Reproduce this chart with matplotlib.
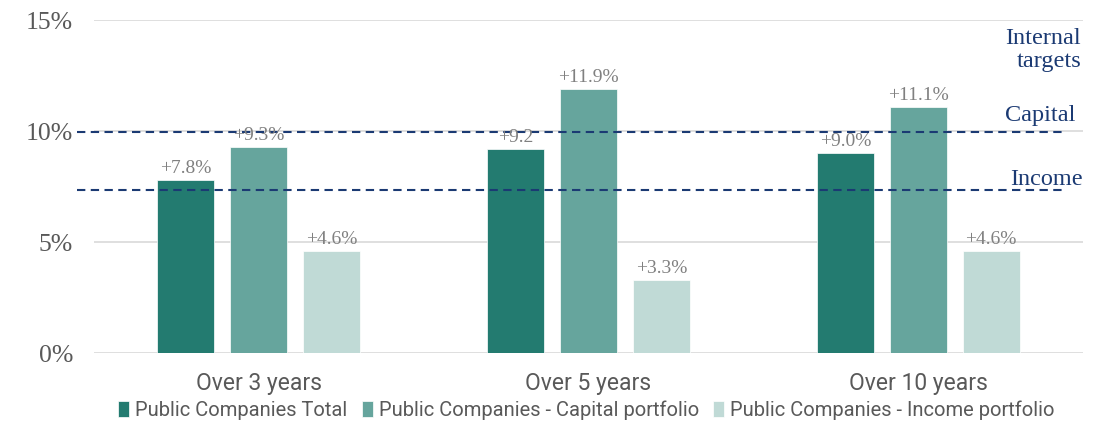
import matplotlib.pyplot as plt
import matplotlib.transforms as mtransforms
import numpy as np

periods = ["Over 3 years", "Over 5 years", "Over 10 years"]
series_names = ["Public Companies Total",
                "Public Companies - Capital portfolio",
                "Public Companies - Income portfolio"]
total = [7.8, 9.2, 9.0]
capital = [9.3, 11.9, 11.1]
income = [4.6, 3.3, 4.6]
labels_total = ["+7.8%", "+9.2", "+9.0%"]
labels_capital = ["+9.3%", "+11.9%", "+11.1%"]
labels_income = ["+4.6%", "+3.3%", "+4.6%"]
target_capital = 9.95
target_income = 7.35

colors = ["#237B70", "#66A59D", "#C0DAD6"]
navy = "#1B3A73"
grey = "#595959"
serif = ["Liberation Serif", "DejaVu Serif"]
narrow = ["Roboto", "DejaVu Sans"]

fig = plt.figure(figsize=(11.07, 4.22), dpi=100)
ax = fig.add_axes([0.0849, 0.1635, 0.8935, 0.7891])

x = np.arange(len(periods))
w = 0.173
off = 0.221
series = [total, capital, income]
labels = [labels_total, labels_capital, labels_income]
for i, (vals, labs) in enumerate(zip(series, labels)):
    bars = ax.bar(x + (i - 1) * off, vals, w, color=colors[i],
                  label=series_names[i], zorder=2,
                  edgecolor="white", linewidth=0.5)
    for b, lab in zip(bars, labs):
        ax.annotate(lab, (b.get_x() + b.get_width() / 2, b.get_height()),
                    xytext=(0, 2), textcoords="offset points",
                    ha="center", va="bottom", fontsize=14,
                    color="#808080", family=serif, zorder=4)

ax.set_xlim(-0.5, 2.5)
ax.set_ylim(0, 15)
ax.set_yticks([0, 5, 10, 15])
ax.set_yticklabels(["0%", "5%", "10%", "15%"], family=serif,
                   fontsize=18.5, color=grey)
ax.set_xticks(x)
ax.set_xticklabels(periods, family=narrow, fontsize=16.5, color=grey)
ax.tick_params(axis="y", length=0, pad=15)
ax.tick_params(axis="x", length=0, pad=14)
ax.yaxis.grid(True, color="#d9d9d9", linewidth=1.2, zorder=0)
ax.set_axisbelow(True)
for s in ax.spines.values():
    s.set_visible(False)

for yv in [target_capital, target_income]:
    ax.axhline(yv, xmin=-0.0172, xmax=0.982, color=navy, linewidth=1.5,
               dashes=(4, 2.6), clip_on=False, zorder=3)

tr = mtransforms.blended_transform_factory(ax.transAxes, ax.transData)
ax.text(0.998, 13.65, "Internal\ntargets", transform=tr, ha="right",
        va="center", fontsize=17.5, color=navy, family=serif,
        linespacing=1.15)
ax.text(0.992, 10.68, "Capital", transform=tr, ha="right", va="center",
        fontsize=17.5, color=navy, family=serif)
ax.text(1.0, 7.8, "Income", transform=tr, ha="right", va="center",
        fontsize=17.5, color=navy, family=serif)

leg = ax.legend(loc="center", bbox_to_anchor=(0.498, -0.172), ncol=3,
                frameon=False, handlelength=0.55, handleheight=0.9,
                handletextpad=0.3, columnspacing=0.7,
                prop={"family": narrow, "size": 14.5})
for t in leg.get_texts():
    t.set_color(grey)

fig.savefig("out.png", dpi=100)
